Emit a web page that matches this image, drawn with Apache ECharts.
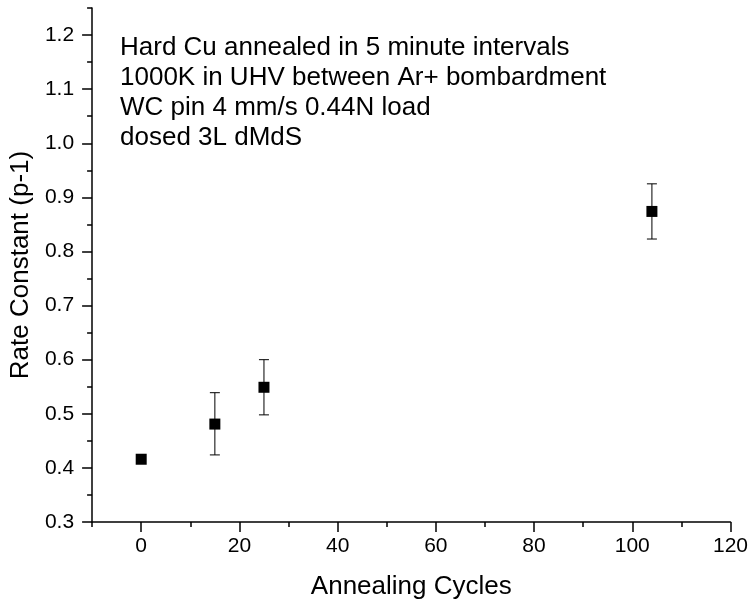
<!DOCTYPE html>
<html>
<head>
<meta charset="utf-8">
<script src="https://cdn.jsdelivr.net/npm/echarts@6/dist/echarts.min.js"></script>
<style>html,body{margin:0;padding:0;background:#fff}#c{width:751px;height:605px}</style>
</head>
<body>
<div id="c"></div>
<script>
const cycles = [0, 15, 25, 104];
const rateConstant = [0.416, 0.481, 0.549, 0.874];
const errLow = [0.416, 0.424, 0.498, 0.823];
const errHigh = [0.416, 0.539, 0.600, 0.925];
const xTickLabels = [0, 20, 40, 60, 80, 100, 120];
const yTickLabels = [0.3, 0.4, 0.5, 0.6, 0.7, 0.8, 0.9, 1.0, 1.1, 1.2];
const annotationLines = [
  'Hard Cu annealed in 5 minute intervals',
  '1000K in UHV between Ar+ bombardment',
  'WC pin 4 mm/s 0.44N load',
  'dosed 3L dMdS'
];

const FONT = '"Liberation Sans", Arial, Helvetica, sans-serif';
const chart = echarts.init(document.getElementById('c'));

const pts = cycles.map((x, i) => [x, rateConstant[i]]);
const errs = cycles.map((x, i) => [x, errLow[i], errHigh[i]]);

chart.setOption({
  animation: false,
  backgroundColor: '#fff',
  grid: { left: 90, right: 16, top: 8, bottom: 80, containLabel: false },
  xAxis: [{
    type: 'value', position: 'bottom', min: -10, max: 120, interval: 10,
    name: 'Annealing Cycles', nameLocation: 'middle', nameGap: 52,
    nameTextStyle: { fontFamily: FONT, fontSize: 26, color: '#000' },
    axisLine: { onZero: false, lineStyle: { color: '#000', width: 1.5 } },
    axisTick: { show: true, inside: false, length: 5, lineStyle: { color: '#000', width: 1.5 } },
    axisLabel: { customValues: xTickLabels, margin: 14, fontFamily: FONT, fontSize: 21, color: '#000' },
    splitLine: { show: false }
  }, {
    type: 'value', position: 'bottom', min: -10, max: 120, interval: 10,
    axisLine: { show: false, onZero: false },
    axisTick: { show: true, customValues: xTickLabels, length: 10, lineStyle: { color: '#000', width: 1.5 } },
    axisLabel: { show: false }, splitLine: { show: false }
  }],
  yAxis: [{
    type: 'value', position: 'left', min: 0.3, max: 1.25, interval: 0.05,
    name: 'Rate Constant (p-1)', nameLocation: 'middle', nameGap: 56,
    nameTextStyle: { fontFamily: FONT, fontSize: 26, color: '#000' },
    axisLine: { show: true, onZero: false, lineStyle: { color: '#000', width: 1.5 } },
    axisTick: { show: true, length: 5, lineStyle: { color: '#000', width: 1.5 } },
    axisLabel: { customValues: yTickLabels, margin: 18, fontFamily: FONT, fontSize: 21, color: '#000',
      formatter: v => v.toFixed(1) },
    splitLine: { show: false }
  }, {
    type: 'value', position: 'left', min: 0.3, max: 1.25, interval: 0.05,
    axisLine: { show: false, onZero: false },
    axisTick: { show: true, customValues: yTickLabels, length: 10, lineStyle: { color: '#000', width: 1.5 } },
    axisLabel: { show: false }, splitLine: { show: false }
  }],
  graphic: [{
    type: 'text', left: 120, top: 33,
    style: { text: annotationLines.join('\n'), fontFamily: FONT, fontSize: 26, lineHeight: 30, fill: '#000' }
  }],
  series: [{
    type: 'custom', xAxisIndex: 0, yAxisIndex: 0, data: errs, z: 2,
    renderItem: (params, api) => {
      const x = api.value(0), lo = api.value(1), hi = api.value(2);
      if (hi - lo < 1e-6) return null;
      const pLo = api.coord([x, lo]), pHi = api.coord([x, hi]);
      const cap = 5;
      const st = { stroke: '#000', lineWidth: 1 };
      return { type: 'group', children: [
        { type: 'line', shape: { x1: pLo[0], y1: pLo[1], x2: pHi[0], y2: pHi[1] }, style: st },
        { type: 'line', shape: { x1: pLo[0]-cap, y1: pLo[1], x2: pLo[0]+cap, y2: pLo[1] }, style: st },
        { type: 'line', shape: { x1: pHi[0]-cap, y1: pHi[1], x2: pHi[0]+cap, y2: pHi[1] }, style: st }
      ]};
    }
  }, {
    type: 'scatter', xAxisIndex: 0, yAxisIndex: 0, data: pts, z: 3,
    symbol: 'rect', symbolSize: 11, itemStyle: { color: '#000', opacity: 1 }
  }]
});
</script>
</body>
</html>
